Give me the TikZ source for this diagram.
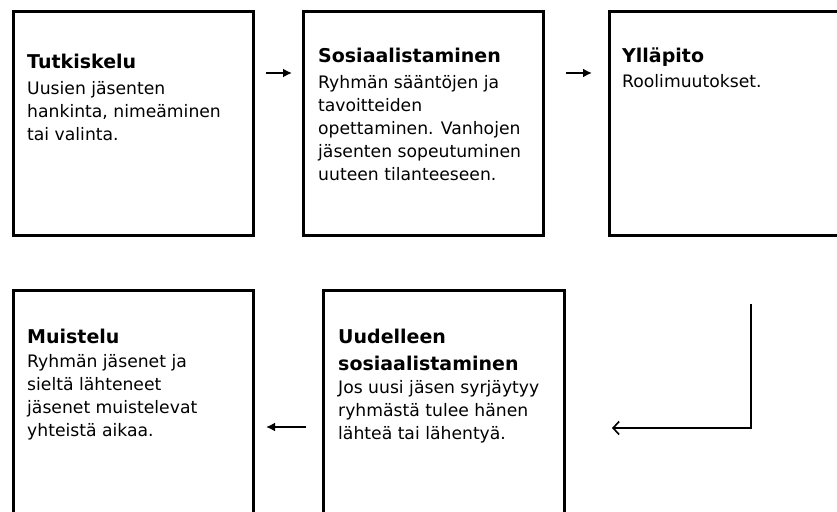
\documentclass[tikz,border=0pt]{standalone}
\usepackage{fontspec}
\setmainfont{DejaVu Sans}
\usetikzlibrary{arrows.meta,calc}
% lines stacked from the baseline of the first one
\newcommand{\stack}[1]{\begin{tabular}[t]{@{}l@{}}#1\end{tabular}}

\begin{document}
\begin{tikzpicture}[x=1pt,y=-1pt,
  stage/.style={draw=black,line width=3pt,minimum height=224pt,inner sep=0pt,anchor=north west},
  body/.style={anchor=base west,inner sep=0pt,font=\fontsize{17.2}{23}\selectfont},
  head/.style={anchor=base west,inner sep=0pt,font=\fontsize{19}{27}\selectfont\bfseries},
  flow/.style={line width=2pt,-{Latex[length=9pt,width=9pt]}},
  back/.style={line width=1.6pt,-{Straight Barb[length=6pt,width=13pt]}}]
  \useasboundingbox (0,0) rectangle (837,511);
  \clip (0,0) rectangle (837,511);

  % stages
  \node[stage,minimum width=240pt] (b1) at (12,10) {};
  \node[stage,minimum width=240pt] (b2) at (302,10) {};
  \node[stage,minimum width=240pt] (b3) at (608,10) {};
  \node[stage,minimum width=240pt] (b4) at (12,289) {};
  \node[stage,minimum width=241pt] (b5) at (322,289) {};

  % texts
  \node[head] (h1) at (27,68) {Tutkiskelu};
  \node[body] (t1) at (27,94) {\stack{Uusien jäsenten\\hankinta, nimeäminen\\tai valinta.}};
  \node[head] (h2) at (318,63) {Sosiaalistaminen};
  \node[body] (t2) at (318,88) {\stack{Ryhmän sääntöjen ja\\tavoitteiden\\opettaminen. Vanhojen\\jäsenten sopeutuminen\\uuteen tilanteeseen.}};
  \node[head] (h3) at (622,63) {Ylläpito};
  \node[body] (t3) at (622,87) {Roolimuutokset.};
  \node[head] (h4) at (27,343) {Muistelu};
  \node[body] (t4) at (27,367) {\stack{Ryhmän jäsenet ja\\sieltä lähteneet\\jäsenet muistelevat\\yhteistä aikaa.}};
  \node[head] (h5) at (338,343) {\stack{Uudelleen\\sosiaalistaminen}};
  \node[body] (t5) at (338,393) {\stack{Jos uusi jäsen syrjäytyy\\ryhmästä tulee hänen\\lähteä tai lähentyä.}};

  % connector ends
  \coordinate (a1s) at ($(b1.north east)+(11,63)$);
  \coordinate (a1e) at ($(b1.north east)+(37,63)$);
  \coordinate (a2s) at ($(b2.north east)+(21,63)$);
  \coordinate (a2e) at ($(b2.north east)+(47,63)$);
  \coordinate (a4s) at ($(b4.north east)+(51,138)$);
  \coordinate (a4e) at ($(b4.north east)+(11,138)$);
  \coordinate (r0) at ($(b5.north east)+(185,15)$);
  \coordinate (r1) at ($(b5.north east)+(185,139)$);
  \coordinate (r2) at ($(b5.north east)+(46,139)$);

  % connectors
  \draw[flow] (a1s) -- (a1e);
  \draw[flow] (a2s) -- (a2e);
  \draw[flow] (a4s) -- (a4e);
  \draw[back] (r0) -- (r1) -- (r2);
\end{tikzpicture}
\end{document}
